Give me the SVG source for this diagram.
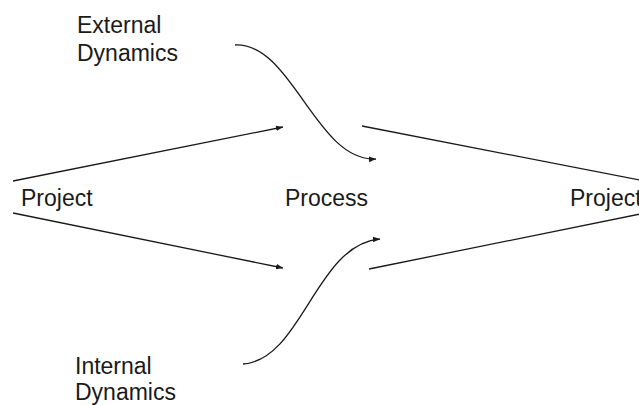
<svg xmlns="http://www.w3.org/2000/svg" width="639" height="405" viewBox="0 0 639 405">
  <style>
    .label { font-family: "Liberation Sans", Arial, sans-serif; font-size: 23px; fill: #1a1a1a; }
    .edge { fill: none; stroke: #1a1a1a; stroke-width: 1.3; }
  </style>
  <defs>
    <marker id="arrow" viewBox="0 0 10 10" refX="10" refY="5" markerWidth="7" markerHeight="7" markerUnits="userSpaceOnUse" orient="auto">
      <path d="M0,1 L10,5 L0,9 Z" fill="#1a1a1a"/>
    </marker>
  </defs>
  <rect width="639" height="405" fill="#ffffff"/>

  <g id="node-external">
    <text class="label" x="77" y="33">External</text>
    <text class="label" x="77" y="61">Dynamics</text>
  </g>
  <g id="node-project-in">
    <text class="label" x="21" y="206">Project</text>
  </g>
  <g id="node-process">
    <text class="label" x="285" y="206">Process</text>
  </g>
  <g id="node-project-out">
    <text class="label" x="570" y="206">Project</text>
  </g>
  <g id="node-internal">
    <text class="label" x="75" y="374">Internal</text>
    <text class="label" x="75" y="400">Dynamics</text>
  </g>

  <g id="connectors">
    <path class="edge" d="M13,181 L283,127" marker-end="url(#arrow)"/>
    <path class="edge" d="M13,213 L283,268" marker-end="url(#arrow)"/>
    <path class="edge" d="M235,45 C292,42 316,162 376,159" marker-end="url(#arrow)"/>
    <path class="edge" d="M243,364 C302,360 316,244 380,239" marker-end="url(#arrow)"/>
    <path class="edge" d="M362,126 L660,184"/>
    <path class="edge" d="M369,269 L660,210"/>
  </g>
</svg>
